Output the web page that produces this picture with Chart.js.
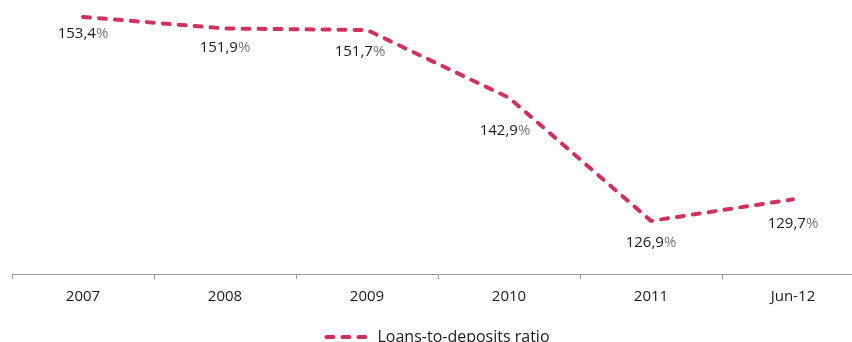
<!DOCTYPE html>
<html>
<head>
<meta charset="utf-8">
<script src="https://cdn.jsdelivr.net/npm/chart.js@4.4.1/dist/chart.umd.min.js"></script>
<style>
  html, body { margin: 0; padding: 0; background: #fff; overflow: hidden; }
  #wrap { width: 852px; height: 342px; overflow: hidden; position: relative; }
  #box { width: 866px; height: 355px; position: absolute; left: 0; top: 0; }
</style>
</head>
<body>
<div id="wrap"><div id="box"><canvas id="c"></canvas></div></div>
<script>
const categories = ['2007', '2008', '2009', '2010', '2011', 'Jun-12'];
const ratioValues = [153.4, 151.9, 151.7, 142.9, 126.9, 129.7];
const seriesName = 'Loans-to-deposits ratio';

const FONT = '"Open Sans", sans-serif';
const LINE_COLOR = '#D0315F';
const DASH = [7, 9];

// label placement relative to each point (dx, dy in px)
const labelOffsets = [[0, 17], [0, 19], [-7, 22], [-4, 33], [0, 22], [0, 24]];

const valueLabels = {
  id: 'valueLabels',
  afterDatasetsDraw(chart) {
    const ctx = chart.ctx;
    const meta = chart.getDatasetMeta(0);
    ctx.save();
    ctx.font = '15px ' + FONT;
    ctx.textBaseline = 'middle';
    meta.data.forEach((pt, i) => {
      const v = chart.data.datasets[0].data[i];
      const num = v.toFixed(1).replace('.', ',');
      const pct = '%';
      const wNum = ctx.measureText(num).width;
      const wPct = ctx.measureText(pct).width;
      const total = wNum + wPct;
      const cx = pt.x + labelOffsets[i][0];
      const cy = pt.y + labelOffsets[i][1];
      const x0 = cx - total / 2;
      ctx.textAlign = 'left';
      ctx.fillStyle = '#1a1a1a';
      ctx.fillText(num, x0, cy);
      ctx.fillStyle = '#777777';
      ctx.fillText(pct, x0 + wNum, cy);
    });
    ctx.restore();
  }
};

new Chart(document.getElementById('c'), {
  type: 'line',
  data: {
    labels: categories,
    datasets: [{
      label: seriesName,
      data: ratioValues,
      borderColor: LINE_COLOR,
      backgroundColor: LINE_COLOR,
      borderWidth: 4,
      borderDash: DASH,
      borderCapStyle: 'round',
      pointRadius: 0,
      pointHoverRadius: 0,
      tension: 0,
      fill: false
    }]
  },
  options: {
    responsive: true,
    maintainAspectRatio: false,
    animation: false,
    layout: { padding: { left: 12, right: 2, top: 0, bottom: 0 } },
    scales: {
      x: {
        type: 'category',
        offset: true,
        grid: {
          offset: true,
          drawOnChartArea: false,
          drawTicks: true,
          tickLength: 5,
          color: '#9a9a9a',
          lineWidth: 1
        },
        border: { display: true, color: '#9a9a9a', width: 1 },
        ticks: {
          color: '#1a1a1a',
          font: { family: FONT, size: 15 },
          padding: 9,
          maxRotation: 0,
          autoSkip: false
        }
      },
      y: {
        display: false,
        min: 120,
        max: 155.6
      }
    },
    plugins: {
      legend: {
        display: true,
        position: 'bottom',
        labels: {
          usePointStyle: true,
          pointStyle: 'line',
          pointStyleWidth: 43,
          color: '#1a1a1a',
          font: { family: FONT, size: 16 },
          padding: 14,
          generateLabels(chart) {
            const items = Chart.defaults.plugins.legend.labels.generateLabels(chart);
            items.forEach(it => {
              it.lineDash = DASH;
              it.lineCap = 'round';
              it.strokeStyle = LINE_COLOR;
              it.lineWidth = 4;
              it.pointStyle = 'line';
            });
            return items;
          }
        }
      },
      tooltip: { enabled: false }
    }
  },
  plugins: [valueLabels]
});
</script>
</body>
</html>
